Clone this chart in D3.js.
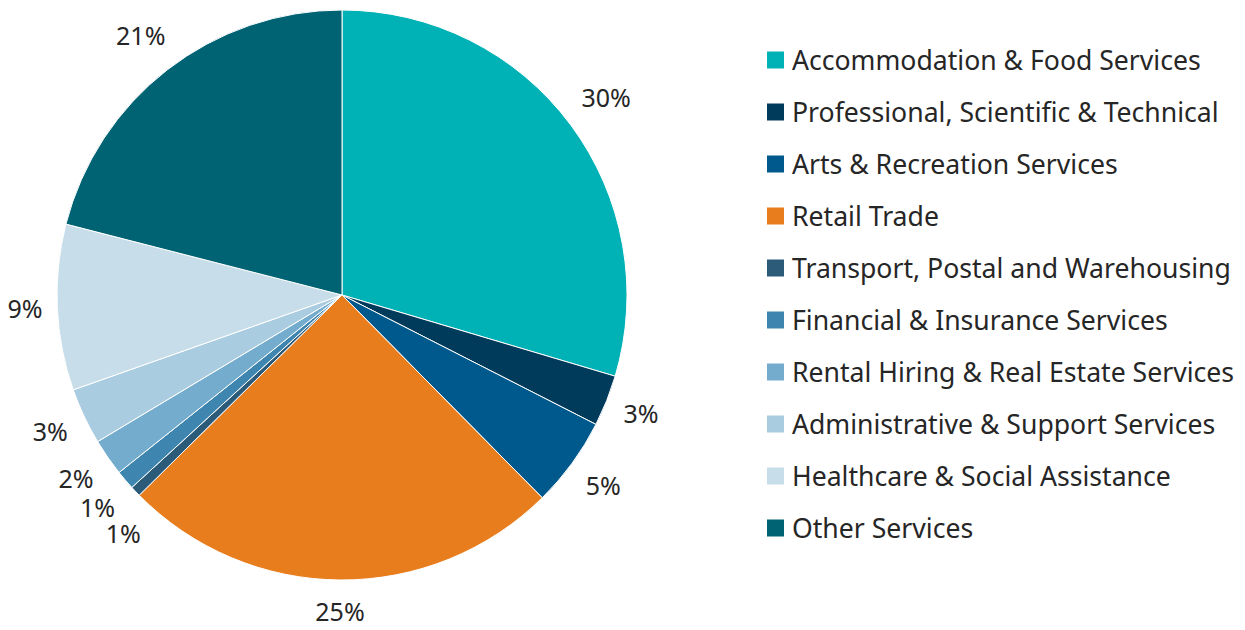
<!DOCTYPE html>
<html>
<head>
<meta charset="utf-8">
<script src="https://cdn.jsdelivr.net/npm/d3@7"></script>
<style>
  html, body { margin: 0; padding: 0; background: #ffffff; }
  svg { display: block; }
  text { font-family: "Noto Sans", sans-serif; fill: #262626; }
</style>
</head>
<body>
<svg id="chart" width="1245" height="630"></svg>
<script>
const categories = [
  "Accommodation & Food Services",
  "Professional, Scientific & Technical",
  "Arts & Recreation Services",
  "Retail Trade",
  "Transport, Postal and Warehousing",
  "Financial & Insurance Services",
  "Rental Hiring & Real Estate Services",
  "Administrative & Support Services",
  "Healthcare & Social Assistance",
  "Other Services"
];
const values = [29.6, 2.9, 5.1, 25.0, 0.6, 1.1, 2.1, 3.2, 9.4, 21.0];
const valueLabels = ["30%", "3%", "5%", "25%", "1%", "1%", "2%", "3%", "9%", "21%"];
const colors = ["#00B1B6", "#003B5C", "#00598C", "#E87D1E", "#2C5B7A",
                "#3E86B0", "#74ACCD", "#AACCE0", "#C8DDEA", "#006373"];

const svg = d3.select("#chart");
const cx = 342, cy = 295, r = 285;

const data = categories.map((c, i) => ({ cat: c, value: values[i], label: valueLabels[i], color: colors[i] }));

const pie = d3.pie().value(d => d.value).sort(null);
const arc = d3.arc().innerRadius(0).outerRadius(r);
const arcs = pie(data);

const g = svg.append("g").attr("transform", `translate(${cx},${cy})`);
g.selectAll("path.slice")
  .data(arcs)
  .enter().append("path")
  .attr("class", "slice")
  .attr("d", arc)
  .attr("fill", d => d.data.color)
  .attr("stroke", "#ffffff")
  .attr("stroke-width", 1);

// Outside-end data labels with simple collision avoidance
const fontSize = 25;
const labelG = g.append("g");
const labels = arcs.map(d => {
  const t = labelG.append("text")
    .attr("font-size", fontSize)
    .attr("text-anchor", "middle")
    .text(d.data.label);
  return { t, w: t.node().getComputedTextLength(), a: (d.startAngle + d.endAngle) / 2 };
});
function place(L) {
  const h = 36;
  const s = Math.sin(L.a), c = Math.cos(L.a);
  const dist = r + 14 + (L.w / 2) * Math.abs(s) + (h / 2) * Math.abs(c);
  L.x = dist * s;
  L.y = -dist * c;
}
function overlap(A, B) {
  const bh = 26;
  return Math.abs(A.x - B.x) < (A.w + B.w) / 2 + 1 && Math.abs(A.y - B.y) < bh;
}
labels.forEach(place);
for (let i = labels.length - 2; i >= 0; i--) {
  let guard = 0;
  while (overlap(labels[i], labels[i + 1]) && guard < 60) {
    labels[i].a -= 0.5 * Math.PI / 180;
    place(labels[i]);
    guard++;
  }
}
labels.forEach(L => L.t.attr("x", L.x).attr("y", L.y + 9));

// Legend
const legendX = 767, legendY0 = 60, legendStep = 52, sq = 17, legendFont = 26.6;
const leg = svg.append("g");
const items = leg.selectAll("g.item")
  .data(data)
  .enter().append("g")
  .attr("class", "item")
  .attr("transform", (d, i) => `translate(${legendX},${legendY0 + i * legendStep})`);
items.append("rect")
  .attr("x", 0).attr("y", -sq / 2)
  .attr("width", sq).attr("height", sq)
  .attr("fill", d => d.color);
items.append("text")
  .attr("x", 25).attr("y", 9.5)
  .attr("font-size", legendFont)
  .text(d => d.cat);
</script>
</body>
</html>
